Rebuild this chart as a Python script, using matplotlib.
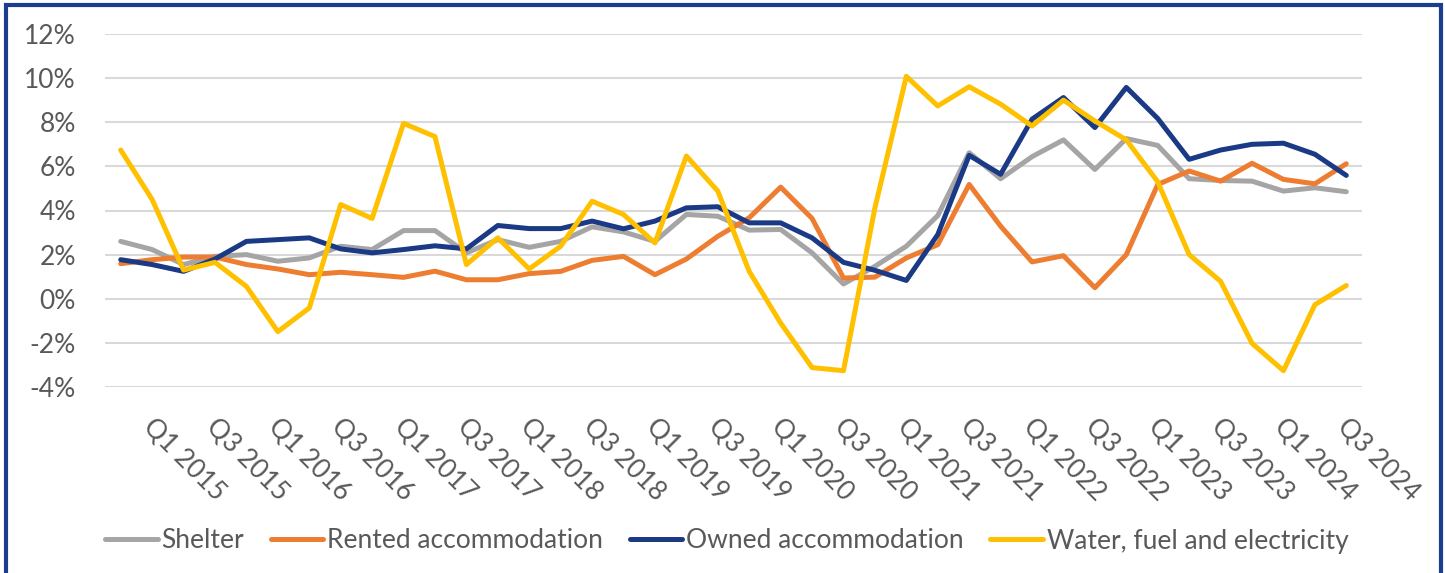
import matplotlib.pyplot as plt
import matplotlib.transforms as mtransforms
from matplotlib.patches import Rectangle

plt.rcParams['font.family'] = ['Lato', 'DejaVu Sans']

# quarterly data, Q1 2015 .. Q4 2024 (year-on-year %)
quarters = [f"Q{q} {y}" for y in range(2015, 2025) for q in range(1, 5)]

shelter = [2.6, 2.23, 1.55, 1.92, 2.0, 1.7, 1.85, 2.38, 2.23, 3.09,
           3.09, 2.08, 2.68, 2.33, 2.6, 3.26, 3.03, 2.6, 3.82, 3.74,
           3.11, 3.14, 2.08, 0.67, 1.47, 2.38, 3.77, 6.62, 5.44, 6.44,
           7.2, 5.86, 7.26, 6.95, 5.44, 5.36, 5.33, 4.88, 5.03, 4.85]
rented = [1.59, 1.77, 1.89, 1.89, 1.55, 1.35, 1.09, 1.2, 1.09, 0.97,
          1.25, 0.86, 0.86, 1.14, 1.24, 1.74, 1.92, 1.09, 1.8, 2.83,
          3.67, 5.06, 3.64, 0.94, 0.98, 1.85, 2.45, 5.18, 3.29, 1.67,
          1.95, 0.5, 2.0, 5.18, 5.79, 5.33, 6.14, 5.41, 5.21, 6.12]
owned = [1.77, 1.55, 1.24, 1.8, 2.6, 2.68, 2.76, 2.26, 2.08, 2.23,
         2.4, 2.26, 3.32, 3.18, 3.18, 3.52, 3.17, 3.52, 4.12, 4.17,
         3.44, 3.44, 2.76, 1.65, 1.29, 0.83, 2.91, 6.5, 5.64, 8.14,
         9.12, 7.76, 9.58, 8.17, 6.32, 6.74, 7.0, 7.05, 6.55, 5.59]
water = [6.74, 4.5, 1.3, 1.65, 0.56, -1.49, -0.42, 4.27, 3.64, 7.95,
         7.35, 1.55, 2.76, 1.35, 2.38, 4.42, 3.82, 2.53, 6.47, 4.88,
         1.24, -1.1, -3.12, -3.26, 4.12, 10.08, 8.74, 9.61, 8.82, 7.83,
         9.0, 8.06, 7.2, 5.3, 2.0, 0.79, -2.02, -3.26, -0.27, 0.6]

series = [('Shelter', shelter, '#A5A5A5'),
          ('Rented accommodation', rented, '#ED7D31'),
          ('Owned accommodation', owned, '#1A3A86'),
          ('Water, fuel and electricity', water, '#FFC000')]

txt = '#595959'

fig = plt.figure(figsize=(14.45, 5.73), dpi=100)
ax = fig.add_axes([105/1445, 1-387/573, (1362-105)/1445, (387-34)/573])

x = list(range(len(quarters)))
for name, vals, col in series:
    ax.plot(x, vals, color=col, lw=3.6, label=name,
            solid_capstyle='round', solid_joinstyle='round')

ax.set_xlim(-0.5, len(quarters) - 0.5)
ax.set_ylim(-4, 12)
ax.set_yticks(range(-4, 13, 2))
ax.set_yticklabels([f"{v}%" for v in range(-4, 13, 2)])
ax.grid(axis='y', color='#D9D9D9', lw=1.5)
ax.set_axisbelow(True)
for s in ax.spines.values():
    s.set_visible(False)

ax.set_xticks(x[::2])
ax.set_xticklabels(quarters[::2])
ax.tick_params(axis='y', length=0, pad=21, labelsize=19, labelcolor=txt)
ax.tick_params(axis='x', length=0, pad=0, labelsize=19, labelcolor=txt)

offset = mtransforms.ScaledTranslation(35/100, -27/100, fig.dpi_scale_trans)
for lab in ax.get_xticklabels():
    lab.set_rotation(-45)
    lab.set_rotation_mode('anchor')
    lab.set_ha('left')
    lab.set_va('top')
    lab.set_transform(lab.get_transform() + offset)

leg = fig.legend(loc='center', bbox_to_anchor=(0.503, 1-541/573), ncol=4,
                 frameon=False, fontsize=19, handlelength=2.0,
                 handletextpad=0.15, columnspacing=1.0)
for t in leg.get_texts():
    t.set_color(txt)

# outer frame (bottom edge is cut off)
fig.patches.append(Rectangle((6/1445, -0.05), (1441-6)/1445, 1.05 - 5/573,
                             transform=fig.transFigure, fill=False,
                             edgecolor='#1B3D8F', lw=3.0))

fig.savefig('out.png', dpi=100)
